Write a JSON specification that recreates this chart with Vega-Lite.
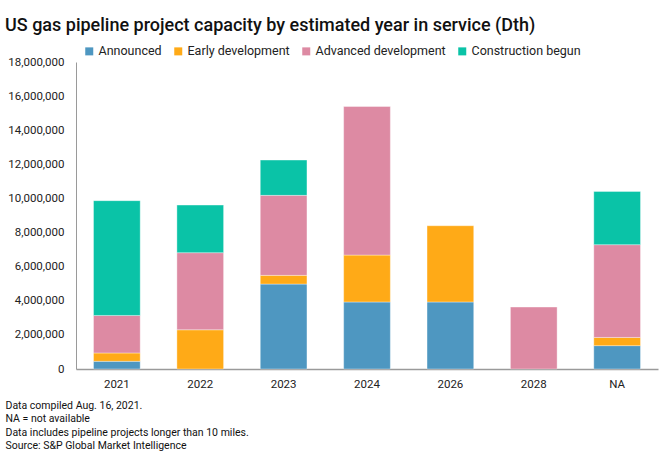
{
  "$schema": "https://vega.github.io/schema/vega-lite/v6.json",
  "autosize": "none",
  "width": 582,
  "height": 307,
  "padding": {"left": 76, "top": 62, "right": 2, "bottom": 95},
  "background": "white",
  "title": {
    "text": "US gas pipeline project capacity by estimated year in service (Dth)",
    "anchor": "start",
    "frame": "group",
    "dx": -71,
    "offset": 10,
    "font": "Roboto",
    "fontSize": 18,
    "fontWeight": 500,
    "color": "#111111"
  },
  "data": {
    "values": [
      {"year": "2021", "stage": "Announced", "value": 450000},
      {"year": "2021", "stage": "Early development", "value": 490000},
      {"year": "2021", "stage": "Advanced development", "value": 2200000},
      {"year": "2021", "stage": "Construction begun", "value": 6730000},
      {"year": "2022", "stage": "Early development", "value": 2300000},
      {"year": "2022", "stage": "Advanced development", "value": 4520000},
      {"year": "2022", "stage": "Construction begun", "value": 2790000},
      {"year": "2023", "stage": "Announced", "value": 4980000},
      {"year": "2023", "stage": "Early development", "value": 510000},
      {"year": "2023", "stage": "Advanced development", "value": 4690000},
      {"year": "2023", "stage": "Construction begun", "value": 2070000},
      {"year": "2024", "stage": "Announced", "value": 3930000},
      {"year": "2024", "stage": "Early development", "value": 2750000},
      {"year": "2024", "stage": "Advanced development", "value": 8710000},
      {"year": "2026", "stage": "Announced", "value": 3930000},
      {"year": "2026", "stage": "Early development", "value": 4470000},
      {"year": "2028", "stage": "Advanced development", "value": 3630000},
      {"year": "NA", "stage": "Announced", "value": 1370000},
      {"year": "NA", "stage": "Early development", "value": 480000},
      {"year": "NA", "stage": "Advanced development", "value": 5440000},
      {"year": "NA", "stage": "Construction begun", "value": 3120000}
    ]
  },
  "transform": [
    {"calculate": "indexof(['Announced','Early development','Advanced development','Construction begun'], datum.stage)", "as": "stageOrder"}
  ],
  "mark": {"type": "bar", "stroke": "white", "strokeWidth": 0.6, "strokeOpacity": 0.6},
  "encoding": {
    "x": {
      "field": "year",
      "type": "ordinal",
      "sort": ["2021", "2022", "2023", "2024", "2026", "2028", "NA"],
      "scale": {"paddingInner": 0.44, "paddingOuter": 0.21},
      "axis": {
        "labelAngle": 0,
        "labelFont": "Roboto",
        "labelFontSize": 11.5,
        "labelColor": "#222222",
        "labelPadding": 9,
        "ticks": false,
        "domainColor": "#9a9a9a",
        "domainWidth": 1.5,
        "title": ["Data compiled Aug. 16, 2021.", "NA = not available", "Data includes pipeline projects longer than 10 miles.", "Source: S&P Global Market Intelligence"],
        "titleFont": "Roboto",
        "titleFontSize": 10.5,
        "titleFontWeight": "normal",
        "titleColor": "#111111",
        "titleAnchor": "start",
        "titleAlign": "left",
        "titleBaseline": "top",
        "titleX": -71,
        "titleY": 31,
        "titleLineHeight": 13.6
      }
    },
    "y": {
      "field": "value",
      "type": "quantitative",
      "aggregate": "sum",
      "stack": "zero",
      "scale": {"domain": [0, 18000000], "nice": false},
      "axis": {
        "values": [0, 2000000, 4000000, 6000000, 8000000, 10000000, 12000000, 14000000, 16000000, 18000000],
        "format": ",d",
        "labelFont": "Roboto",
        "labelFontSize": 11.5,
        "labelColor": "#222222",
        "labelPadding": 12,
        "ticks": false,
        "grid": false,
        "domainColor": "#9a9a9a",
        "title": null
      }
    },
    "color": {
      "field": "stage",
      "type": "nominal",
      "scale": {
        "domain": ["Announced", "Early development", "Advanced development", "Construction begun"],
        "range": ["#4E97C1", "#FFAA17", "#DD8AA3", "#0AC3A7"]
      },
      "legend": {
        "title": null,
        "orient": "none",
        "direction": "horizontal",
        "legendX": 7,
        "legendY": -17,
        "symbolType": "square",
        "symbolSize": 64,
        "symbolStrokeWidth": 0,
        "labelFont": "Roboto",
        "labelFontSize": 12.5,
        "labelColor": "#222222",
        "labelOffset": 3,
        "columnPadding": 10
      }
    },
    "order": {"field": "stageOrder", "type": "quantitative", "sort": "ascending"}
  },
  "config": {"view": {"stroke": null}}
}
